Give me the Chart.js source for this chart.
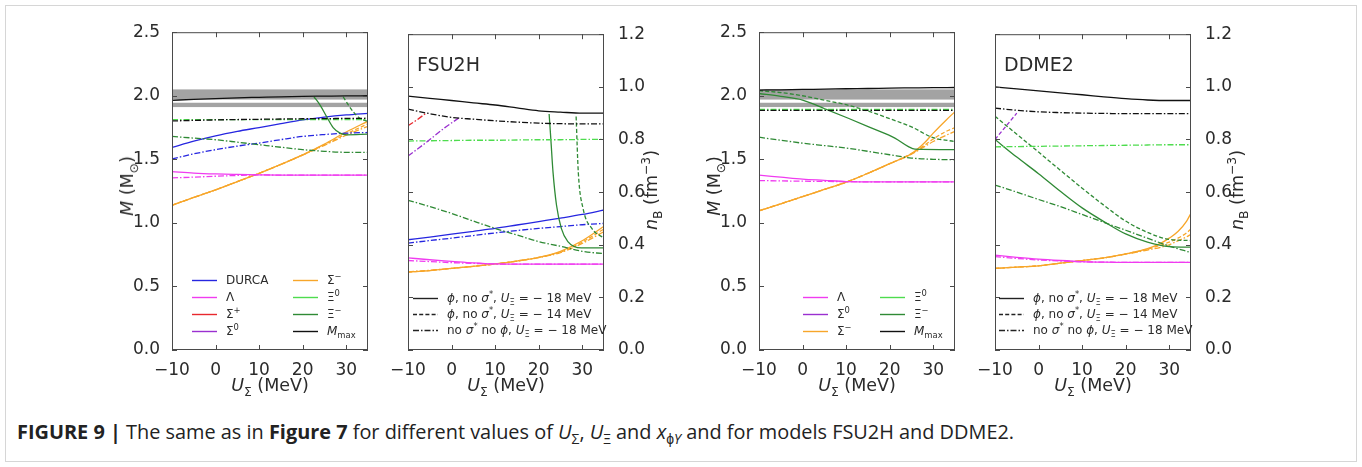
<!DOCTYPE html>
<html>
<head>
<meta charset="utf-8">
<script src="https://cdn.jsdelivr.net/npm/chart.js@4.4.0/dist/chart.umd.min.js"></script>
<style>
  body { margin: 0; width: 1362px; height: 467px; background: #fff; position: relative; overflow: hidden;
         font-family: "DejaVu Sans", sans-serif; color: #2b2b2b; }
  #box { position: absolute; left: 5px; top: 5px; width: 1350px; height: 455px; border: 1px solid #d6d6d6; }
  canvas { position: absolute; }
  .t { position: absolute; white-space: nowrap; }
  .rot { transform: translate(-50%, -50%) rotate(-90deg); font-size: 17.5px; }
  .xt { transform: translateX(-50%); font-size: 17.5px; }
  .name { font-size: 19px; }
  sub, sup { font-size: 70%; line-height: 0; }
  .leg { position: absolute; font-size: 12px; white-space: nowrap; line-height: 14px; }
  #cap { position: absolute; left: 17px; top: 418px; font-family: "Open Sans", "Liberation Sans", sans-serif;
         font-size: 19.9px; color: #222; white-space: nowrap; }
</style>
</head>
<body>
<div id="box"></div>

<script>
// x grid shared by most curves (U_Sigma in MeV)
const uGrid = [-10, -5, 0, 5, 10, 15, 20, 25, 30, 35];
const xTicks = [-10, 0, 10, 20, 30];
const massTicks = [0, 0.5, 1.0, 1.5, 2.0, 2.5];
const densTicks = [0, 0.2, 0.4, 0.6, 0.8, 1.0, 1.2];
const massBands = [[1.97, 2.05], [1.911, 1.945]];

// ---- FSU2H, maximum / threshold masses
const fsuM_mmax_solid   = [1.964, 1.972, 1.978, 1.984, 1.988, 1.992, 1.995, 1.997, 1.999, 2.0];
const fsuM_mmax_dashdot = [1.802, 1.806, 1.81, 1.813, 1.815, 1.817, 1.819, 1.82, 1.822, 1.823];
const fsuM_xi0_dashdot  = [1.812, 1.812, 1.812, 1.812, 1.812, 1.812, 1.812, 1.812, 1.812, 1.812];
const fsuM_durca_solid  = [1.594, 1.643, 1.685, 1.72, 1.75, 1.781, 1.81, 1.832, 1.849, 1.862];
const fsuM_durca_dashdot= [1.503, 1.543, 1.576, 1.604, 1.628, 1.655, 1.68, 1.695, 1.706, 1.711];
const fsuM_lam_solid    = [1.404, 1.392, 1.385, 1.381, 1.378, 1.376, 1.375, 1.375, 1.375, 1.375];
const fsuM_lam_dashdot  = [1.354, 1.36, 1.367, 1.373, 1.377, 1.376, 1.375, 1.375, 1.375, 1.375];
const fsuM_sigm_solid   = [1.138, 1.2, 1.26, 1.325, 1.39, 1.46, 1.535, 1.62, 1.715, 1.80];
const fsuM_sigm_dashed  = [1.138, 1.2, 1.26, 1.325, 1.39, 1.46, 1.535, 1.615, 1.70, 1.78];
const fsuM_sigm_dashdot = [1.14, 1.2, 1.26, 1.325, 1.39, 1.46, 1.533, 1.61, 1.69, 1.76];
const fsuM_xim_dashdot  = [1.68, 1.667, 1.654, 1.635, 1.615, 1.595, 1.576, 1.563, 1.555, 1.555];
const fsuM_xim_solid_u  = [22.6, 24.0, 25.5, 27.0, 28.6, 30.1, 35];
const fsuM_xim_solid    = [1.992, 1.927, 1.836, 1.75, 1.706, 1.693, 1.698];
const fsuM_xim_dashed_u = [29.3, 30.5, 31.6, 33.1, 35];
const fsuM_xim_dashed   = [1.992, 1.927, 1.875, 1.823, 1.797];

// ---- FSU2H, central / threshold densities
const fsuN_mmax_solid   = [0.965, 0.956, 0.948, 0.939, 0.931, 0.92, 0.909, 0.904, 0.90, 0.90];
const fsuN_mmax_dashdot = [0.915, 0.898, 0.884, 0.877, 0.871, 0.866, 0.862, 0.86, 0.859, 0.859];
const fsuN_sigp_u       = [-10, -7.9, -5.7];
const fsuN_sigp_dashdot = [0.852, 0.875, 0.902];
const fsuN_sig0_u       = [-10, -5.4, -1.6, 1.6];
const fsuN_sig0_dashdot = [0.737, 0.794, 0.844, 0.881];
const fsuN_xi0_dashdot  = [0.794, 0.795, 0.796, 0.797, 0.797, 0.798, 0.799, 0.799, 0.80, 0.80];
const fsuN_xim_solid_u  = [22.4, 22.8, 23.3, 24.1, 25.2, 26.7, 29.8, 35];
const fsuN_xim_solid    = [0.897, 0.80, 0.675, 0.55, 0.462, 0.412, 0.388, 0.388];
const fsuN_xim_dashed_u = [28.6, 29.1, 30.2, 32.2, 35];
const fsuN_xim_dashed   = [0.887, 0.675, 0.537, 0.462, 0.425];
const fsuN_xim_dashdot  = [0.569, 0.545, 0.519, 0.49, 0.462, 0.437, 0.412, 0.394, 0.375, 0.366];
const fsuN_durca_solid  = [0.419, 0.429, 0.44, 0.451, 0.462, 0.475, 0.488, 0.501, 0.515, 0.532];
const fsuN_durca_dashdot= [0.406, 0.416, 0.425, 0.435, 0.445, 0.454, 0.462, 0.469, 0.476, 0.481];
const fsuN_lam_solid    = [0.35, 0.343, 0.337, 0.331, 0.327, 0.326, 0.326, 0.326, 0.326, 0.326];
const fsuN_lam_dashdot  = [0.34, 0.336, 0.332, 0.329, 0.327, 0.326, 0.326, 0.326, 0.326, 0.326];
const fsuN_sigm_solid   = [0.296, 0.302, 0.31, 0.318, 0.327, 0.338, 0.352, 0.375, 0.415, 0.47];
const fsuN_sigm_dashed  = [0.296, 0.302, 0.31, 0.318, 0.327, 0.338, 0.352, 0.372, 0.41, 0.46];
const fsuN_sigm_dashdot = [0.297, 0.303, 0.31, 0.318, 0.327, 0.338, 0.351, 0.37, 0.405, 0.45];

// ---- DDME2, masses
const ddM_mmax_solid    = [2.045, 2.047, 2.05, 2.052, 2.055, 2.057, 2.06, 2.062, 2.064, 2.065];
const ddM_mmax_dashdot  = [1.885, 1.885, 1.885, 1.885, 1.885, 1.885, 1.885, 1.885, 1.885, 1.885];
const ddM_xi0_dashdot   = [1.892, 1.892, 1.892, 1.892, 1.892, 1.892, 1.892, 1.892, 1.892, 1.892];
const ddM_xim_solid_u   = [-10, -5, 0, 5.2, 10.5, 15.9, 21.2, 24.3, 25.8, 35];
const ddM_xim_solid     = [2.018, 1.995, 1.966, 1.896, 1.823, 1.745, 1.667, 1.60, 1.58, 1.576];
const ddM_xim_dashed    = [2.04, 2.025, 2.0, 1.965, 1.93, 1.88, 1.82, 1.755, 1.67, 1.64];
const ddM_xim_dashdot   = [1.674, 1.65, 1.627, 1.608, 1.589, 1.563, 1.536, 1.51, 1.50, 1.497];
const ddM_lam_solid     = [1.375, 1.36, 1.345, 1.335, 1.325, 1.323, 1.323, 1.322, 1.322, 1.322];
const ddM_lam_dashdot   = [1.333, 1.33, 1.328, 1.326, 1.325, 1.323, 1.323, 1.322, 1.322, 1.322];
const ddM_sigm_u        = [-10, -5, 0, 5, 10, 15, 20, 25, 28, 30, 33, 35];
const ddM_sigm_solid    = [1.094, 1.15, 1.206, 1.263, 1.32, 1.39, 1.466, 1.545, 1.63, 1.706, 1.81, 1.875];
const ddM_sigm_dashed   = [1.094, 1.15, 1.206, 1.263, 1.32, 1.39, 1.466, 1.545, 1.61, 1.66, 1.72, 1.75];
const ddM_sigm_dashdot  = [1.096, 1.15, 1.206, 1.263, 1.32, 1.39, 1.465, 1.54, 1.6, 1.64, 1.69, 1.72];

// ---- DDME2, densities
const ddN_mmax_solid    = [1.0, 0.992, 0.985, 0.977, 0.97, 0.962, 0.955, 0.95, 0.948, 0.948];
const ddN_mmax_dashdot  = [0.919, 0.911, 0.905, 0.902, 0.90, 0.899, 0.898, 0.898, 0.898, 0.898];
const ddN_sig0_u        = [-10, -5];
const ddN_sig0_dashed   = [0.80, 0.90];
const ddN_xi0_dashdot   = [0.772, 0.773, 0.774, 0.775, 0.776, 0.777, 0.778, 0.779, 0.78, 0.78];
const ddN_xim_solid     = [0.80, 0.733, 0.67, 0.603, 0.54, 0.488, 0.441, 0.41, 0.393, 0.391];
const ddN_xim_dashed    = [0.888, 0.82, 0.752, 0.683, 0.615, 0.55, 0.49, 0.447, 0.42, 0.416];
const ddN_xim_dashdot   = [0.627, 0.60, 0.572, 0.545, 0.515, 0.485, 0.455, 0.425, 0.395, 0.37];
const ddN_lam_solid     = [0.36, 0.352, 0.345, 0.34, 0.336, 0.334, 0.333, 0.333, 0.333, 0.333];
const ddN_lam_dashdot   = [0.355, 0.348, 0.342, 0.338, 0.335, 0.334, 0.333, 0.333, 0.333, 0.333];
const ddN_sigm_u        = [-10, -5, 0, 5, 10, 15, 20, 25, 28, 30, 32, 34, 35];
const ddN_sigm_solid    = [0.31, 0.315, 0.32, 0.33, 0.34, 0.35, 0.365, 0.385, 0.405, 0.425, 0.45, 0.49, 0.52];
const ddN_sigm_dashed   = [0.31, 0.315, 0.32, 0.33, 0.34, 0.35, 0.365, 0.383, 0.398, 0.41, 0.425, 0.445, 0.46];
const ddN_sigm_dashdot  = [0.31, 0.315, 0.32, 0.33, 0.34, 0.35, 0.364, 0.38, 0.39, 0.40, 0.415, 0.43, 0.44];

const C = {
  durca: '#2626e0', lam: '#f03cf0', sigp: '#e8282e', sig0: '#9a30d0',
  sigm: '#f7a62a', xi0: '#4edc4e', xim: '#2f8a35', mmax: '#111111'
};
const DASH = { solid: [], dashed: [4, 2.2], dashdot: [6, 2, 1.5, 2] };

function ds(xs, ys, color, style) {
  return {
    data: xs.map((x, i) => ({ x: x, y: ys[i] })),
    borderColor: color, borderWidth: 1.3, borderDash: DASH[style],
    pointRadius: 0, fill: false, cubicInterpolationMode: 'monotone'
  };
}

// inward ticks on all four sides plus the axes frame, matplotlib style
const frameTicks = {
  id: 'frameTicks',
  afterDraw(chart) {
    const { ctx, chartArea: a, scales: { x, y } } = chart;
    ctx.save();
    ctx.strokeStyle = '#4a4a4a';
    ctx.lineWidth = 1;
    ctx.strokeRect(a.left + 0.5, a.top + 0.5, a.width - 1, a.height - 1);
    ctx.beginPath();
    x.ticks.forEach(t => {
      const p = Math.round(x.getPixelForValue(t.value)) + 0.5;
      ctx.moveTo(p, a.bottom); ctx.lineTo(p, a.bottom - 5);
      ctx.moveTo(p, a.top); ctx.lineTo(p, a.top + 5);
    });
    y.ticks.forEach(t => {
      const p = Math.round(y.getPixelForValue(t.value)) + 0.5;
      ctx.moveTo(a.left, p); ctx.lineTo(a.left + 5, p);
      ctx.moveTo(a.right, p); ctx.lineTo(a.right - 5, p);
    });
    ctx.stroke();
    ctx.restore();
  }
};

const bands = {
  id: 'bands',
  beforeDatasetsDraw(chart, args, opts) {
    if (!opts.ranges) return;
    const { ctx, chartArea: a, scales: { y } } = chart;
    ctx.save();
    ctx.fillStyle = opts.color;
    opts.ranges.forEach(([lo, hi]) => {
      const y1 = y.getPixelForValue(hi), y2 = y.getPixelForValue(lo);
      ctx.fillRect(a.left, y1, a.width, y2 - y1);
    });
    ctx.restore();
  }
};

const plotTop = 30, plotW = 196, plotH = 320, axisW = 45, axisH = 28, padT = 12, sidePad = 22;
const tickFont = { family: 'DejaVu Sans', size: 17 };

function makePanel(plotLeft, side, yMax, yTicks, datasets, bandRanges) {
  const cv = document.createElement('canvas');
  const w = axisW + plotW + sidePad, h = padT + plotH + axisH;
  cv.width = w; cv.height = h;
  cv.style.left = (side === 'left' ? plotLeft - axisW : plotLeft - sidePad) + 'px';
  cv.style.top = (plotTop - padT) + 'px';
  document.body.appendChild(cv);
  new Chart(cv, {
    type: 'line',
    data: { datasets: datasets },
    options: {
      responsive: false, animation: false, devicePixelRatio: 1,
      layout: { padding: side === 'left'
        ? { left: 0, right: sidePad, top: padT, bottom: 0 }
        : { left: sidePad, right: 0, top: padT, bottom: 0 } },
      plugins: { legend: { display: false }, tooltip: { enabled: false },
                 bands: { ranges: bandRanges, color: '#a3a3a3' } },
      scales: {
        x: {
          type: 'linear', min: -10, max: 35,
          grid: { display: false }, border: { display: false },
          afterBuildTicks: s => { s.ticks = xTicks.map(v => ({ value: v })); },
          afterFit: s => { s.height = axisH; },
          ticks: { font: tickFont, color: '#2b2b2b', padding: 2, maxRotation: 0, autoSkip: false,
                   callback: v => v < 0 ? '\u2212' + Math.abs(v) : String(v) }
        },
        y: {
          type: 'linear', position: side, min: 0, max: yMax,
          grid: { display: false }, border: { display: false },
          afterBuildTicks: s => { s.ticks = yTicks.map(v => ({ value: v })); },
          afterFit: s => { s.width = axisW; },
          ticks: { font: tickFont, color: '#2b2b2b', padding: side === 'left' ? 4 : 6,
                   callback: v => Number(v).toFixed(1) }
        }
      }
    },
    plugins: [bands, frameTicks]
  });
}

makePanel(172, 'left', 2.5, massTicks, [
  ds(uGrid, fsuM_mmax_solid, C.mmax, 'solid'),
  ds(uGrid, fsuM_mmax_dashdot, C.mmax, 'dashdot'),
  ds(uGrid, fsuM_xi0_dashdot, C.xi0, 'dashdot'),
  ds(fsuM_xim_solid_u, fsuM_xim_solid, C.xim, 'solid'),
  ds(fsuM_xim_dashed_u, fsuM_xim_dashed, C.xim, 'dashed'),
  ds(uGrid, fsuM_xim_dashdot, C.xim, 'dashdot'),
  ds(uGrid, fsuM_durca_solid, C.durca, 'solid'),
  ds(uGrid, fsuM_durca_dashdot, C.durca, 'dashdot'),
  ds(uGrid, fsuM_lam_solid, C.lam, 'solid'),
  ds(uGrid, fsuM_lam_dashdot, C.lam, 'dashdot'),
  ds(uGrid, fsuM_sigm_solid, C.sigm, 'solid'),
  ds(uGrid, fsuM_sigm_dashed, C.sigm, 'dashed'),
  ds(uGrid, fsuM_sigm_dashdot, C.sigm, 'dashdot')
], massBands);

makePanel(408, 'right', 1.2, densTicks, [
  ds(uGrid, fsuN_mmax_solid, C.mmax, 'solid'),
  ds(uGrid, fsuN_mmax_dashdot, C.mmax, 'dashdot'),
  ds(fsuN_sigp_u, fsuN_sigp_dashdot, C.sigp, 'dashdot'),
  ds(fsuN_sig0_u, fsuN_sig0_dashdot, C.sig0, 'dashdot'),
  ds(uGrid, fsuN_xi0_dashdot, C.xi0, 'dashdot'),
  ds(fsuN_xim_solid_u, fsuN_xim_solid, C.xim, 'solid'),
  ds(fsuN_xim_dashed_u, fsuN_xim_dashed, C.xim, 'dashed'),
  ds(uGrid, fsuN_xim_dashdot, C.xim, 'dashdot'),
  ds(uGrid, fsuN_durca_solid, C.durca, 'solid'),
  ds(uGrid, fsuN_durca_dashdot, C.durca, 'dashdot'),
  ds(uGrid, fsuN_lam_solid, C.lam, 'solid'),
  ds(uGrid, fsuN_lam_dashdot, C.lam, 'dashdot'),
  ds(uGrid, fsuN_sigm_solid, C.sigm, 'solid'),
  ds(uGrid, fsuN_sigm_dashed, C.sigm, 'dashed'),
  ds(uGrid, fsuN_sigm_dashdot, C.sigm, 'dashdot')
], null);

makePanel(759, 'left', 2.5, massTicks, [
  ds(uGrid, ddM_mmax_solid, C.mmax, 'solid'),
  ds(uGrid, ddM_mmax_dashdot, C.mmax, 'dashdot'),
  ds(uGrid, ddM_xi0_dashdot, C.xi0, 'dashdot'),
  ds(ddM_xim_solid_u, ddM_xim_solid, C.xim, 'solid'),
  ds(uGrid, ddM_xim_dashed, C.xim, 'dashed'),
  ds(uGrid, ddM_xim_dashdot, C.xim, 'dashdot'),
  ds(uGrid, ddM_lam_solid, C.lam, 'solid'),
  ds(uGrid, ddM_lam_dashdot, C.lam, 'dashdot'),
  ds(ddM_sigm_u, ddM_sigm_solid, C.sigm, 'solid'),
  ds(ddM_sigm_u, ddM_sigm_dashed, C.sigm, 'dashed'),
  ds(ddM_sigm_u, ddM_sigm_dashdot, C.sigm, 'dashdot')
], massBands);

makePanel(995, 'right', 1.2, densTicks, [
  ds(uGrid, ddN_mmax_solid, C.mmax, 'solid'),
  ds(uGrid, ddN_mmax_dashdot, C.mmax, 'dashdot'),
  ds(ddN_sig0_u, ddN_sig0_dashed, C.sig0, 'dashed'),
  ds(uGrid, ddN_xi0_dashdot, C.xi0, 'dashdot'),
  ds(uGrid, ddN_xim_solid, C.xim, 'solid'),
  ds(uGrid, ddN_xim_dashed, C.xim, 'dashed'),
  ds(uGrid, ddN_xim_dashdot, C.xim, 'dashdot'),
  ds(uGrid, ddN_lam_solid, C.lam, 'solid'),
  ds(uGrid, ddN_lam_dashdot, C.lam, 'dashdot'),
  ds(ddN_sigm_u, ddN_sigm_solid, C.sigm, 'solid'),
  ds(ddN_sigm_u, ddN_sigm_dashed, C.sigm, 'dashed'),
  ds(ddN_sigm_u, ddN_sigm_dashdot, C.sigm, 'dashdot')
], null);

// ---- text: axis titles, model names, legends, caption
function txt(html, left, top, cls) {
  const d = document.createElement('div');
  d.className = 't ' + cls;
  d.style.left = left + 'px'; d.style.top = top + 'px';
  d.innerHTML = html;
  document.body.appendChild(d);
}
const mTitle = '<i>M</i> (M<sub>\u2299</sub>)';
const nTitle = '<i>n</i><sub>B</sub> (fm<sup>\u22123</sup>)';
const uTitle = '<i>U</i><sub>\u03a3</sub> (MeV)';
txt(mTitle, 127, 186, 'rot');
txt(mTitle, 714, 186, 'rot');
txt(nTitle, 651, 190, 'rot');
txt(nTitle, 1237, 190, 'rot');
[172, 408, 759, 995].forEach(l => txt(uTitle, l + plotW / 2, 375, 'xt'));
txt('FSU2H', 417, 53, 'name');
txt('DDME2', 1004, 53, 'name');

function legendItem(x, y, color, style, label) {
  const d = document.createElement('div');
  d.className = 'leg';
  d.style.left = x + 'px'; d.style.top = (y - 7) + 'px';
  const dash = DASH[style].join(',');
  d.innerHTML = '<svg width="25" height="14" style="vertical-align:top;margin-right:9px">' +
    '<line x1="0" y1="7.5" x2="25" y2="7.5" stroke="' + color + '" stroke-width="1.4"' +
    (dash ? ' stroke-dasharray="' + dash + '"' : '') + '/></svg>' + label;
  document.body.appendChild(d);
}
const speciesA = [['durca', 'DURCA'], ['lam', '\u039b'], ['sigp', '\u03a3<sup>+</sup>'], ['sig0', '\u03a3<sup>0</sup>']];
const speciesB = [['sigm', '\u03a3<sup>\u2212</sup>'], ['xi0', '\u039e<sup>0</sup>'], ['xim', '\u039e<sup>\u2212</sup>'], ['mmax', '<i>M</i><sub>max</sub>']];
const rowsA = [280, 297, 314, 331];
speciesA.forEach((s, i) => legendItem(192, rowsA[i], C[s[0]], 'solid', s[1]));
speciesB.forEach((s, i) => legendItem(293, rowsA[i], C[s[0]], 'solid', s[1]));

const speciesC = [['lam', '\u039b'], ['sig0', '\u03a3<sup>0</sup>'], ['sigm', '\u03a3<sup>\u2212</sup>']];
const speciesD = [['xi0', '\u039e<sup>0</sup>'], ['xim', '\u039e<sup>\u2212</sup>'], ['mmax', '<i>M</i><sub>max</sub>']];
const rowsB = [297, 314, 331];
speciesC.forEach((s, i) => legendItem(803, rowsB[i], C[s[0]], 'solid', s[1]));
speciesD.forEach((s, i) => legendItem(880, rowsB[i], C[s[0]], 'solid', s[1]));

const models = [
  ['solid', '<i>\u03d5</i>, no <i>\u03c3</i><sup>*</sup>, <i>U</i><sub>\u039e</sub> = \u2212 18 MeV'],
  ['dashed', '<i>\u03d5</i>, no <i>\u03c3</i><sup>*</sup>, <i>U</i><sub>\u039e</sub> = \u2212 14 MeV'],
  ['dashdot', 'no <i>\u03c3</i><sup>*</sup> no <i>\u03d5</i>, <i>U</i><sub>\u039e</sub> = \u2212 18 MeV']
];
const rowsC = [298, 314, 330];
models.forEach((m, i) => legendItem(413, rowsC[i], '#222', m[0], m[1]));
models.forEach((m, i) => legendItem(999, rowsC[i], '#222', m[0], m[1]));

const cap = document.createElement('div');
cap.id = 'cap';
cap.innerHTML = '<b>FIGURE 9 |</b> The same as in <b>Figure 7</b> for different values of <i>U</i><sub>\u03a3</sub>, ' +
  '<i>U</i><sub>\u039e</sub> and <i>x</i><sub>\u03d5<i>Y</i></sub> and for models FSU2H and DDME2.';
document.body.appendChild(cap);
</script>
</body>
</html>
